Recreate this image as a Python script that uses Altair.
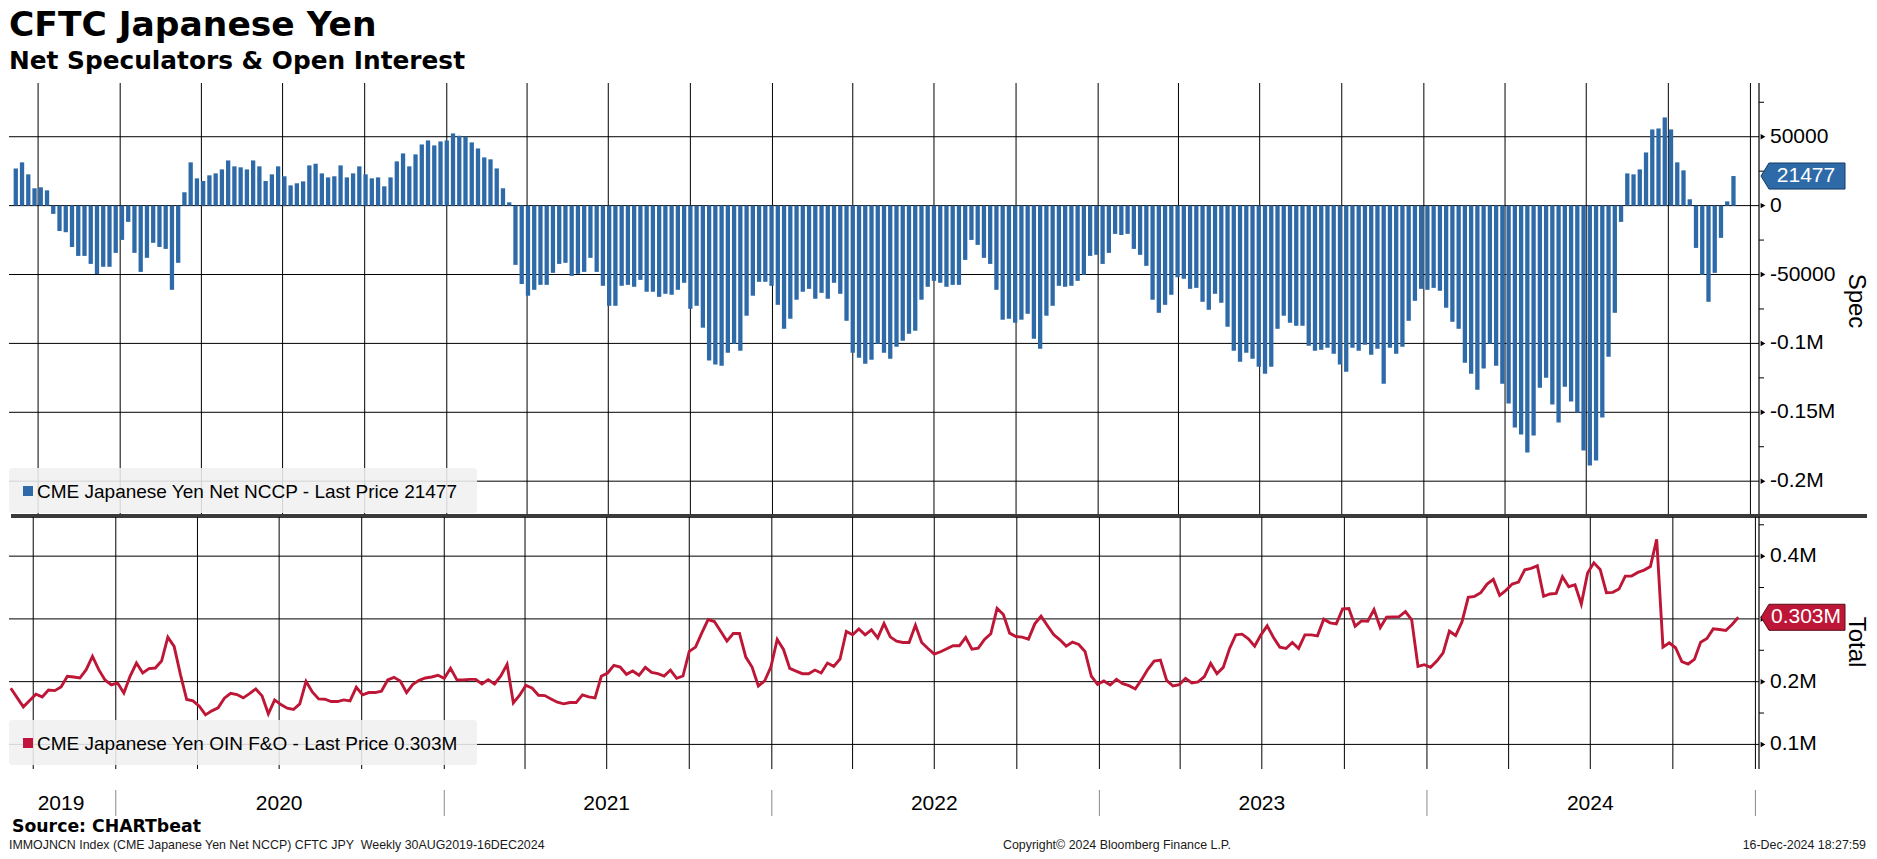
import altair as alt
import pandas as pd

# ---------------- data ----------------
first_week = "2019-09-06"          # weekly CFTC observations (Fridays)

# CME Japanese Yen Net NCCP (contracts)
spec_net = [
    27000, 31400, 22700, 12600, 13300, 11100, -6000, -18400, -19300, -30000,
    -36500, -36500, -42300, -49700, -44400, -44400, -34300, -24900, -11800, -34300,
    -48100, -37900, -27000, -30000, -31400, -61100, -41500, 9700, 31400, 19800,
    17900, 22000, 23400, 26300, 32800, 28500, 27800, 26300, 32800, 28500,
    17900, 22700, 28500, 21300, 14700, 16200, 17600, 29200, 30400, 23400,
    20500, 21300, 29200, 20500, 23400, 28500, 22700, 19800, 20500, 14000,
    20500, 32100, 37900, 28500, 37200, 44400, 47300, 43700, 46600, 47300,
    52400, 50700, 50000, 45900, 41500, 35000, 33600, 27000, 12600, 2400,
    -43000, -56800, -65400, -61100, -57500, -57500, -48800, -42300, -41500, -51000,
    -49500, -48100, -37900, -48100, -58200, -72700, -72700, -58200, -57500, -58900,
    -53900, -62500, -62500, -66200, -64000, -64700, -61100, -56000, -74900, -72700,
    -88600, -112500, -115400, -116200, -106700, -100200, -105300, -79900, -65400, -55300,
    -55300, -58200, -72000, -89400, -82100, -68300, -62500, -60400, -67600, -63300,
    -67600, -56000, -64000, -83600, -106700, -110400, -114700, -111800, -100200, -106700,
    -111100, -102400, -98000, -93000, -90800, -68300, -58900, -54600, -56000, -58900,
    -57500, -57500, -39400, -24900, -28500, -37900, -42300, -61100, -82800, -82100,
    -85000, -82800, -78500, -96600, -103800, -79900, -72700, -58200, -58900, -58200,
    -54600, -50200, -36500, -35700, -42300, -34300, -20500, -21300, -20500, -31400,
    -35700, -43700, -68300, -77800, -72000, -64700, -52000, -53100, -60400, -59700,
    -69800, -75600, -64000, -70500, -87900, -105300, -113300, -106700, -111100, -116900,
    -122000, -116900, -89400, -79900, -85000, -87200, -87200, -101700, -105300, -104600,
    -103100, -107500, -115400, -120500, -103100, -105300, -100900, -108200, -103800, -129200,
    -103100, -107500, -102400, -83600, -69100, -60400, -61100, -59700, -61800, -74100,
    -84300, -89400, -114000, -122000, -133600, -118300, -100200, -116200, -129200, -143700,
    -161100, -166200, -179200, -166900, -132100, -124900, -144400, -157500, -131400, -142200,
    -150200, -177700, -188600, -185000, -153800, -109600, -77800, -11800, 23400, 22700,
    26300, 38600, 55300, 56000, 64000, 55300, 31400, 25600, 4600, -30700,
    -50200, -69800, -48800, -23400, 3100, 21477,
]

# CME Japanese Yen OIN F&O (thousand contracts)
open_interest_k = [
    189.4, 174.6, 159.8, 169.9, 179.9, 175.7, 186.8, 185.7, 191.6, 208.5,
    207.4, 205.8, 219.1, 240.2, 219.1, 202.7, 194.7, 197.9, 182.0, 209.0,
    229.6, 213.8, 220.7, 221.7, 232.8, 270.9, 256.1, 211.7, 171.5, 169.3,
    160.9, 147.1, 153.5, 158.2, 173.6, 181.5, 179.4, 174.1, 181.0, 188.4,
    177.3, 148.7, 170.9, 163.5, 157.7, 155.6, 164.6, 200.5, 183.6, 172.5,
    172.0, 168.3, 168.3, 170.9, 169.3, 191.0, 178.9, 182.6, 182.6, 184.7,
    202.7, 206.9, 201.1, 182.6, 195.8, 202.1, 205.8, 207.4, 210.1, 205.3,
    221.2, 203.2, 202.7, 203.7, 203.7, 196.3, 203.2, 196.3, 209.0, 227.5,
    166.2, 178.3, 194.2, 189.4, 178.3, 177.8, 172.5, 167.2, 164.6, 166.7,
    166.7, 178.9, 175.7, 174.1, 208.5, 213.8, 225.9, 223.3, 211.7, 216.9,
    210.1, 222.8, 214.8, 212.7, 209.0, 218.5, 205.3, 209.0, 248.2, 255.0,
    277.8, 298.9, 295.8, 280.4, 264.6, 276.7, 276.7, 239.2, 223.3, 193.1,
    201.1, 223.8, 267.2, 251.3, 221.2, 216.9, 212.7, 212.7, 218.5, 213.8,
    229.6, 224.4, 236.0, 279.9, 274.6, 284.1, 274.6, 282.5, 269.8, 292.6,
    271.4, 264.6, 262.4, 262.4, 289.9, 262.4, 252.9, 243.9, 247.6, 252.4,
    257.2, 257.2, 270.4, 251.9, 253.4, 267.2, 276.2, 316.9, 306.9, 277.3,
    272.0, 270.9, 267.7, 292.1, 304.2, 289.4, 275.1, 266.7, 256.6, 263.0,
    259.3, 248.2, 209.0, 195.8, 201.1, 194.7, 203.7, 196.8, 193.7, 188.4,
    203.2, 219.6, 232.8, 234.4, 202.1, 193.1, 195.3, 205.3, 197.9, 199.5,
    208.0, 229.1, 212.7, 222.8, 252.4, 274.6, 275.7, 268.3, 256.6, 274.6,
    288.9, 270.4, 255.0, 252.9, 262.4, 252.9, 274.6, 274.6, 273.0, 299.5,
    293.7, 292.1, 315.9, 316.4, 288.4, 296.8, 296.3, 314.8, 286.2, 302.6,
    303.2, 303.7, 311.6, 298.4, 224.4, 227.0, 222.8, 232.8, 246.0, 280.4,
    273.5, 295.2, 334.4, 336.0, 341.8, 355.5, 363.0, 337.6, 345.5, 355.5,
    358.7, 378.3, 380.4, 384.6, 336.0, 339.7, 340.7, 367.2, 351.3, 354.5,
    323.8, 373.0, 389.4, 378.8, 341.8, 342.3, 347.6, 368.2, 368.2, 374.1,
    377.8, 383.6, 427.0, 255.0, 261.9, 254.0, 231.8, 228.1, 235.5, 263.0,
    268.8, 284.1, 283.1, 281.5, 291.0, 302.6,
]

quarter_lines = [
    "2019-10-01", "2020-01-01", "2020-04-01", "2020-07-01", "2020-10-01",
    "2021-01-01", "2021-04-01", "2021-07-01", "2021-10-01",
    "2022-01-01", "2022-04-01", "2022-07-01", "2022-10-01",
    "2023-01-01", "2023-04-01", "2023-07-01", "2023-10-01",
    "2024-01-01", "2024-04-01", "2024-07-01", "2024-10-01", "2025-01-01",
]
year_labels = ["2019", "2020", "2021", "2022", "2023", "2024"]
year_label_dates = ["2019-11-01", "2020-07-01", "2021-07-01", "2022-07-01", "2023-07-01", "2024-07-01"]
year_breaks = ["2020-01-01", "2021-01-01", "2022-01-01", "2023-01-01", "2024-01-01", "2025-01-01"]

spec_major = [50000, 0, -50000, -100000, -150000, -200000]
spec_labels = [50000, 0, -50000, -100000, -150000, -200000]
spec_label_text = ["50000", "0", "-50000", "-0.1M", "-0.15M", "-0.2M"]
spec_minor = [75000, 25000, -25000, -75000, -125000, -175000]
oi_major = [400, 300, 200, 100]
oi_labels = [400, 200, 100]            # 0.3M is hidden behind the last-price tag
oi_label_text = ["0.4M", "0.2M", "0.1M"]
oi_minor = [450, 350, 250, 150]

title_text = "CFTC Japanese Yen"
subtitle_text = "Net Speculators & Open Interest"
spec_legend = "CME Japanese Yen Net NCCP - Last Price "
oi_legend = "CME Japanese Yen OIN F&O - Last Price "
source_text = "Source: CHARTbeat"
footer_left = "IMMOJNCN Index (CME Japanese Yen Net NCCP) CFTC JPY\u00a0\u00a0Weekly 30AUG2019-16DEC2024"
footer_mid = "Copyright\u00a9 2024 Bloomberg Finance L.P."
footer_right = "16-Dec-2024 18:27:59"

# ---------------- tables ----------------
dates = pd.date_range(first_week, periods=len(spec_net), freq="7D").strftime("%Y-%m-%d").tolist()
weekly = pd.DataFrame({"date": dates, "spec": spec_net, "oi": open_interest_k})

spec_last = str(spec_net[-1])
oi_last = f"{open_interest_k[-1] / 1000:.3f}M"

# ---------------- style ----------------
W, H1, H2 = 1750, 434, 252
BLUE = "#2e6aa8"
RED = "#be1636"
SANS = "Liberation Sans"
BOLD = "DejaVu Sans"

X_SCALE = alt.Scale(type="utc", domain=["2019-09-04", "2025-01-05"])
SPEC_SCALE = alt.Scale(domain=[-226000, 89000], nice=False, zero=False)
OI_SCALE = alt.Scale(domain=[60.8, 462.4], nice=False, zero=False)


def one(**kw):
    return pd.DataFrame({k: [v] for k, v in kw.items()})


def frame_layers(h, scale, major, label_vals, label_text, minor):
    """Grid lines, right-hand axis line, ticks and tick labels for one panel."""
    vgrid = alt.Chart(pd.DataFrame({"d": quarter_lines})).mark_rule(color="#000000", strokeWidth=1).encode(
        x=alt.X("d:T", scale=X_SCALE, axis=None), y=alt.value(0), y2=alt.value(h))
    hgrid = alt.Chart(pd.DataFrame({"v": major})).mark_rule(color="#000000", strokeWidth=1).encode(
        y=alt.Y("v:Q", scale=scale, axis=None), x=alt.value(0), x2=alt.value(W))
    axis_line = alt.Chart(one(k=0)).mark_rule(color="#000000", strokeWidth=1.2).encode(
        x=alt.value(W), y=alt.value(0), y2=alt.value(h))
    minor_ticks = alt.Chart(pd.DataFrame({"v": minor})).mark_rule(color="#000000", strokeWidth=1).encode(
        x=alt.value(W), x2=alt.value(W + 5), y=alt.Y("v:Q", scale=scale, axis=None))
    arrows = alt.Chart(pd.DataFrame({"v": major})).mark_point(
        shape="triangle-right", size=30, filled=True, color="#000000", opacity=1).encode(
        x=alt.value(W + 4), y=alt.Y("v:Q", scale=scale, axis=None))
    labels = alt.Chart(pd.DataFrame({"v": label_vals, "t": label_text})).mark_text(
        font=SANS, fontSize=21, align="left", baseline="middle", color="#000000").encode(
        x=alt.value(W + 11), y=alt.Y("v:Q", scale=scale, axis=None), text="t:N")
    return [vgrid, hgrid], [axis_line, minor_ticks, arrows, labels]


def legend_layers(h, label, color):
    rect = alt.Chart(one(k=0)).mark_rect(fill="#f0f0f0", opacity=0.88, cornerRadius=3).encode(
        x=alt.value(0), x2=alt.value(468), y=alt.value(h - 49), y2=alt.value(h - 4))
    sq = alt.Chart(one(k=0)).mark_square(size=100, color=color, opacity=1).encode(
        x=alt.value(19), y=alt.value(h - 26))
    txt = alt.Chart(one(t=label)).mark_text(
        font=SANS, fontSize=19, align="left", baseline="middle", color="#000000").encode(
        x=alt.value(28), y=alt.value(h - 25), text="t:N")
    return [rect, sq, txt]


def last_price_layers(scale, value, label, fill, stroke, side_title, side_y):
    box = alt.Chart(one(v=value)).mark_point(
        shape="M-1,0L-0.81,-0.31L1,-0.31L1,0.31L-0.81,0.31Z", size=7056, filled=True,
        fill=fill, stroke=stroke, strokeWidth=1, opacity=1, fillOpacity=1).encode(
        x=alt.value(W + 44), y=alt.Y("v:Q", scale=scale, axis=None))
    box_txt = alt.Chart(one(v=value, t=label)).mark_text(
        font=SANS, fontSize=21, align="center", baseline="middle", color="#ffffff").encode(
        x=alt.value(W + 47), y=alt.Y("v:Q", scale=scale, axis=None), text="t:N")
    side = alt.Chart(one(t=side_title)).mark_text(
        font=SANS, fontSize=24, angle=90, align="center", baseline="middle", color="#000000").encode(
        x=alt.value(W + 97), y=alt.value(side_y), text="t:N")
    return [box, box_txt, side]


# ---------------- top panel: net speculators ----------------
bars = alt.Chart(weekly).mark_bar(width=4.3, color=BLUE, clip=True).encode(
    x=alt.X("date:T", scale=X_SCALE, axis=None),
    y=alt.Y("spec:Q", scale=SPEC_SCALE, axis=None),
)
title = alt.Chart(one(t=title_text)).mark_text(
    font=BOLD, fontWeight="bold", fontSize=34.5, align="left", baseline="middle", color="#000000").encode(
    x=alt.value(0), y=alt.value(-57), text="t:N")
subtitle = alt.Chart(one(t=subtitle_text)).mark_text(
    font=BOLD, fontWeight="bold", fontSize=24.8, align="left", baseline="middle", color="#000000").encode(
    x=alt.value(0), y=alt.value(-21), text="t:N")
separator = alt.Chart(one(k=0)).mark_rule(color="#3a3a3a", strokeWidth=4).encode(
    x=alt.value(2), x2=alt.value(W + 108), y=alt.value(H1 - 1))

g1, a1 = frame_layers(H1, SPEC_SCALE, spec_major, spec_labels, spec_label_text, spec_minor)
top = alt.layer(
    *g1, bars,
    *legend_layers(H1, spec_legend + spec_last, BLUE),
    *a1,
    *last_price_layers(SPEC_SCALE, spec_net[-1], spec_last, BLUE, "#173a60", "Spec", 218),
    title, subtitle, separator,
).properties(width=W, height=H1)

# ---------------- bottom panel: open interest ----------------
line = alt.Chart(weekly).mark_line(color=RED, strokeWidth=2.9, clip=True).encode(
    x=alt.X("date:T", scale=X_SCALE, axis=None),
    y=alt.Y("oi:Q", scale=OI_SCALE, axis=None),
)
years = alt.Chart(pd.DataFrame({"d": year_label_dates, "t": year_labels})).mark_text(
    font=SANS, fontSize=21, align="center", baseline="middle", color="#000000").encode(
    x=alt.X("d:T", scale=X_SCALE, axis=None), y=alt.value(H2 + 35), text="t:N")
year_sep = alt.Chart(pd.DataFrame({"d": year_breaks})).mark_rule(color="#8a8a8a", strokeWidth=1).encode(
    x=alt.X("d:T", scale=X_SCALE, axis=None), y=alt.value(H2 + 21), y2=alt.value(H2 + 47))
source = alt.Chart(one(t=source_text)).mark_text(
    font=BOLD, fontWeight="bold", fontSize=17.3, align="left", baseline="middle", color="#000000").encode(
    x=alt.value(3), y=alt.value(H2 + 58), text="t:N")
foot_l = alt.Chart(one(t=footer_left)).mark_text(
    font=SANS, fontSize=12.4, align="left", baseline="middle", color="#1a1a1a").encode(
    x=alt.value(0), y=alt.value(H2 + 76), text="t:N")
foot_m = alt.Chart(one(t=footer_mid)).mark_text(
    font=SANS, fontSize=12.4, align="center", baseline="middle", color="#1a1a1a").encode(
    x=alt.value(1108), y=alt.value(H2 + 76), text="t:N")
foot_r = alt.Chart(one(t=footer_right)).mark_text(
    font=SANS, fontSize=12.4, align="right", baseline="middle", color="#1a1a1a").encode(
    x=alt.value(W + 107), y=alt.value(H2 + 76), text="t:N")

g2, a2 = frame_layers(H2, OI_SCALE, oi_major, oi_labels, oi_label_text, oi_minor)
bottom = alt.layer(
    *g2, line,
    *legend_layers(H2, oi_legend + oi_last, "#c0143c"),
    *a2,
    *last_price_layers(OI_SCALE, open_interest_k[-1], oi_last, RED, "#5a0a18", "Total", 125),
    years, year_sep, source, foot_l, foot_m, foot_r,
).properties(width=W, height=H2)

chart = alt.vconcat(top, bottom, spacing=0, bounds="flush").properties(
    padding=0, background="#ffffff"
).configure_view(strokeWidth=0)

chart.save("out.html", embed_options={"renderer": "svg", "actions": False})
